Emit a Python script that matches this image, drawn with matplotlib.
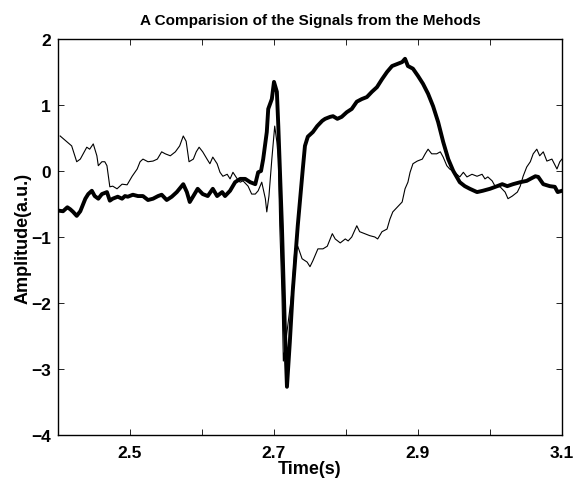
import numpy as np
import matplotlib.pyplot as plt

# thin trace
t_thin = [2.403, 2.419, 2.426, 2.431, 2.440, 2.444, 2.449, 2.454, 2.456, 2.461,
          2.465, 2.468, 2.472, 2.476, 2.482, 2.489, 2.496, 2.503, 2.510, 2.514,
          2.518, 2.525, 2.532, 2.538, 2.544, 2.549, 2.556, 2.563, 2.569, 2.574,
          2.578, 2.582, 2.588, 2.592, 2.596, 2.601, 2.607, 2.611, 2.615, 2.621,
          2.625, 2.629, 2.635, 2.639, 2.643, 2.649, 2.653, 2.657, 2.664, 2.669,
          2.674, 2.678, 2.683, 2.688, 2.690, 2.693, 2.697, 2.701, 2.704, 2.706,
          2.708, 2.711, 2.713, 2.719, 2.725, 2.729, 2.733, 2.739, 2.746, 2.750,
          2.754, 2.761, 2.768, 2.774, 2.781, 2.785, 2.792, 2.799, 2.803, 2.808,
          2.815, 2.819, 2.826, 2.833, 2.840, 2.844, 2.850, 2.857, 2.861, 2.865,
          2.871, 2.878, 2.882, 2.886, 2.889, 2.893, 2.899, 2.906, 2.910, 2.914,
          2.919, 2.926, 2.931, 2.935, 2.940, 2.944, 2.951, 2.958, 2.963, 2.968,
          2.975, 2.982, 2.989, 2.993, 2.997, 3.003, 3.007, 3.014, 3.021, 3.025,
          3.031, 3.038, 3.042, 3.046, 3.051, 3.056, 3.060, 3.065, 3.069, 3.074,
          3.079, 3.086, 3.093, 3.097, 3.100]
a_thin = [0.53, 0.38, 0.14, 0.18, 0.36, 0.33, 0.41, 0.23, 0.08, 0.14,
          0.14, 0.08, -0.24, -0.23, -0.27, -0.20, -0.21, -0.08, 0.03, 0.14,
          0.18, 0.14, 0.15, 0.18, 0.29, 0.26, 0.23, 0.29, 0.38, 0.53,
          0.45, 0.14, 0.18, 0.29, 0.36, 0.29, 0.18, 0.11, 0.21, 0.11,
          -0.02, -0.08, -0.05, -0.12, -0.02, -0.12, -0.17, -0.15, -0.23, -0.35,
          -0.35, -0.30, -0.17, -0.42, -0.62, -0.38, 0.18, 0.68, 0.44, 0.18,
          -0.83, -1.83, -2.88, -2.35, -1.83, -1.18, -1.14, -1.33, -1.38, -1.45,
          -1.36, -1.18, -1.18, -1.14, -0.95, -1.03, -1.09, -1.03, -1.06, -1.00,
          -0.83, -0.92, -0.95, -0.98, -1.00, -1.03, -0.92, -0.88, -0.73, -0.62,
          -0.55, -0.47, -0.27, -0.17, -0.02, 0.11, 0.15, 0.18, 0.26, 0.33,
          0.26, 0.26, 0.29, 0.21, 0.08, 0.03, -0.02, -0.09, -0.02, -0.09,
          -0.05, -0.08, -0.05, -0.12, -0.09, -0.15, -0.23, -0.24, -0.32, -0.42,
          -0.38, -0.32, -0.23, -0.08, 0.06, 0.14, 0.26, 0.33, 0.23, 0.29,
          0.15, 0.18, 0.03, 0.14, 0.18]

# thick trace
t_thick = [2.400, 2.407, 2.413, 2.417, 2.421, 2.426, 2.431, 2.438, 2.442, 2.447,
           2.451, 2.456, 2.461, 2.468, 2.472, 2.476, 2.483, 2.489, 2.493, 2.497,
           2.504, 2.511, 2.518, 2.525, 2.532, 2.539, 2.544, 2.551, 2.558, 2.565,
           2.574, 2.579, 2.583, 2.588, 2.594, 2.601, 2.608, 2.615, 2.621, 2.628,
           2.632, 2.639, 2.646, 2.653, 2.660, 2.667, 2.674, 2.678, 2.682, 2.685,
           2.690, 2.692, 2.697, 2.700, 2.704, 2.706, 2.711, 2.715, 2.718, 2.722,
           2.726, 2.733, 2.740, 2.743, 2.747, 2.754, 2.760, 2.767, 2.771, 2.778,
           2.782, 2.788, 2.794, 2.801, 2.808, 2.815, 2.822, 2.829, 2.836, 2.843,
           2.850, 2.857, 2.864, 2.871, 2.878, 2.882, 2.886, 2.893, 2.900, 2.907,
           2.914, 2.921, 2.928, 2.935, 2.942, 2.949, 2.958, 2.965, 2.972,
           2.982, 2.990, 3.000, 3.010, 3.017, 3.024, 3.032, 3.042, 3.051, 3.056,
           3.063, 3.067, 3.074, 3.083, 3.090, 3.094, 3.100]
a_thick = [-0.60, -0.61, -0.55, -0.58, -0.62, -0.68, -0.61, -0.42, -0.35, -0.30,
           -0.38, -0.42, -0.35, -0.32, -0.45, -0.42, -0.39, -0.42, -0.38, -0.39,
           -0.36, -0.38, -0.38, -0.44, -0.42, -0.38, -0.36, -0.44, -0.39, -0.32,
           -0.20, -0.32, -0.47, -0.38, -0.27, -0.35, -0.38, -0.27, -0.38, -0.32,
           -0.38, -0.30, -0.17, -0.12, -0.12, -0.17, -0.20, -0.02, 0.00, 0.18,
           0.59, 0.94, 1.09, 1.35, 1.20, 0.68, -0.83, -2.35, -3.27, -2.59,
           -1.83, -0.83, 0.03, 0.38, 0.52, 0.59, 0.68, 0.76, 0.79, 0.82,
           0.83, 0.79, 0.82, 0.89, 0.94, 1.05, 1.09, 1.12, 1.20, 1.27,
           1.39, 1.50, 1.59, 1.62, 1.65, 1.70, 1.59, 1.55, 1.44, 1.32,
           1.17, 0.98, 0.74, 0.44, 0.18, 0.00, -0.17, -0.23, -0.27,
           -0.32, -0.30, -0.27, -0.23, -0.20, -0.23, -0.20, -0.17, -0.15, -0.12,
           -0.08, -0.09, -0.20, -0.23, -0.24, -0.32, -0.30]

x_ticks = [2.4, 2.5, 2.6, 2.7, 2.8, 2.9, 3.0, 3.1]
x_ticklabels = ['', '2.5', '', '2.7', '', '2.9', '', '3.1']
y_ticks = [-4, -3, -2, -1, 0, 1, 2]

plt.rcParams['font.family'] = ['Liberation Sans', 'DejaVu Sans']
plt.rcParams['font.weight'] = 'bold'

fig = plt.figure(figsize=(5.73, 4.81), dpi=100)
ax = fig.add_axes([0.1012, 0.0936, 0.8796, 0.8233])

ax.plot(t_thin, a_thin, color='black', linewidth=0.8)
ax.plot(t_thick, a_thick, color='black', linewidth=2.8)

ax.set_xlim(2.4, 3.1)
ax.set_ylim(-4, 2)
ax.set_xticks(x_ticks)
ax.set_xticklabels(x_ticklabels)
ax.set_yticks(y_ticks)
ax.tick_params(direction='in', top=True, right=True, length=4, width=0.6,
               labelsize=12.5)
ax.tick_params(axis='x', pad=7)
ax.tick_params(axis='y', pad=5)
for lbl in ax.get_xticklabels() + ax.get_yticklabels():
    lbl.set_fontweight('bold')
for sp in ax.spines.values():
    sp.set_linewidth(1.0)

ax.set_xlabel('Time(s)', fontsize=13, fontweight='bold', labelpad=0)
ax.set_ylabel('Amplitude(a.u.)', fontsize=13, fontweight='bold', labelpad=0)
ax.set_title('A Comparision of the Signals from the Mehods', fontsize=11,
             fontweight='bold', pad=11)

fig.savefig('out.png', dpi=100)
